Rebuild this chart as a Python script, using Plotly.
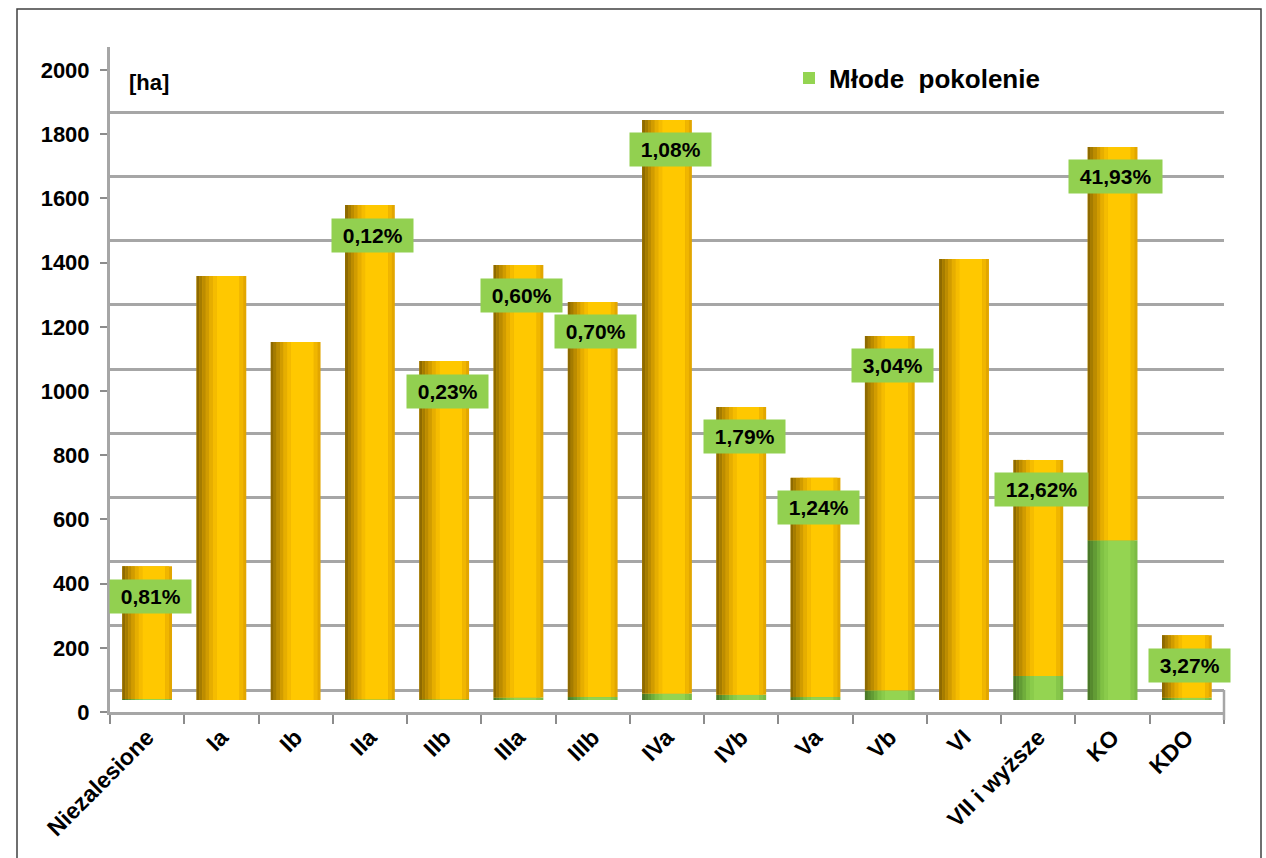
import plotly.graph_objects as go

# ---------------- data ----------------
categories = ["Niezalesione", "Ia", "Ib", "IIa", "IIb", "IIIa", "IIIb", "IVa",
              "IVb", "Va", "Vb", "VI", "VII i wyższe", "KO", "KDO"]
total_ha = [417, 1321, 1115, 1542, 1056, 1355, 1240, 1807,
            913, 692, 1134, 1374, 748, 1723, 202]
young_ha = [3, 0, 0, 2, 2, 8, 9, 20,
            16, 9, 30, 0, 75, 498, 7]
pct_labels = ["0,81%", "", "", "0,12%", "0,23%", "0,60%", "0,70%", "1,08%",
              "1,79%", "1,24%", "3,04%", "", "12,62%", "41,93%", "3,27%"]
y_ticks = [0, 200, 400, 600, 800, 1000, 1200, 1400, 1600, 1800, 2000]

rest_ha = [t - y for t, y in zip(total_ha, young_ha)]

# ---------------- geometry (pixels) ----------------
W, H = 1266, 858
L, R = 110, 1224          # plot area left/right
T, B = 47, 712            # plot area top/bottom
PX_PER_UNIT = 642 / 2000  # vertical scale
span = (B - T) / PX_PER_UNIT

def rng(zero_px):
    lo = -(B - zero_px) / PX_PER_UNIT
    return [lo, lo + span]

def px_x(x):
    return (x - L) / (R - L)

def px_y(y):
    return (B - y) / (B - T)

FONT = "Liberation Sans, Arial, sans-serif"

fig = go.Figure()

# cylinder-like shading: layers of bars (left dark -> bright -> slightly dark right)
orange_layers = [(-0.335, 0.67, "#E2A600"), (-0.335, 0.04, "#8E6A00"),
                 (-0.295, 0.04, "#A57C00"), (-0.255, 0.045, "#BC8C00"),
                 (-0.21, 0.045, "#D19C00"), (-0.165, 0.05, "#E6AE00"),
                 (-0.115, 0.05, "#F5BC00"), (-0.065, 0.31, "#FFC800"),
                 (0.245, 0.05, "#F0B600")]
green_layers = [(-0.335, 0.67, "#7CBB45"), (-0.335, 0.04, "#4A7828"),
                (-0.295, 0.04, "#568A2E"), (-0.255, 0.045, "#629C35"),
                (-0.21, 0.045, "#70AE3C"), (-0.165, 0.05, "#80C144"),
                (-0.115, 0.05, "#8ACB4B"), (-0.065, 0.31, "#94D451"),
                (0.245, 0.05, "#86C64A")]

legend_idx = 7
for i, (off, wid, col) in enumerate(green_layers):
    fig.add_trace(go.Bar(
        x=categories, y=young_ha, base=[0] * len(categories),
        offset=off, width=wid, marker=dict(color=col, line=dict(width=0)),
        name="Młode  pokolenie", showlegend=(i == legend_idx),
        hoverinfo="skip"))
for off, wid, col in orange_layers:
    fig.add_trace(go.Bar(
        x=categories, y=rest_ha, base=young_ha,
        offset=off, width=wid, marker=dict(color=col, line=dict(width=0)),
        showlegend=False, hoverinfo="skip"))

# empty traces to register overlay axes (labels front / grid back)
fig.add_trace(go.Scatter(x=[], y=[], yaxis="y2", showlegend=False))
fig.add_trace(go.Scatter(x=[], y=[], yaxis="y3", showlegend=False))

# data labels
for c, t, lab in zip(categories, total_ha, pct_labels):
    if lab:
        fig.add_annotation(
            x=c, y=t, xref="x", yref="y", text="\u00a0" + lab + "\u00a0",
            showarrow=False, yanchor="middle", xanchor="center",
            yshift=-30, xshift=3, bgcolor="#92D050", borderpad=5,
            font=dict(family=FONT, size=21, color="#000000", weight="bold"))

# unit label
fig.add_annotation(
    x=px_x(127), y=px_y(82), xref="paper", yref="paper", text="[ha]",
    showarrow=False, xanchor="left", yanchor="middle",
    font=dict(family=FONT, size=22, color="#000000", weight="bold"))

# outer frame and floor right edge
fig.add_shape(type="rect", xref="paper", yref="paper",
              x0=px_x(17), x1=px_x(1261), y0=px_y(880), y1=px_y(9),
              line=dict(color="#404040", width=1.5), layer="below")
fig.add_shape(type="line", xref="paper", yref="paper",
              x0=1, x1=1, y0=px_y(720), y1=px_y(690),
              line=dict(color="#a6a6a6", width=2.5))

fig.update_layout(
    width=W, height=H,
    margin=dict(l=L, r=W - R, t=T, b=H - B),
    paper_bgcolor="white", plot_bgcolor="rgba(0,0,0,0)",
    barmode="overlay",
    font=dict(family=FONT, color="#000000"),
    showlegend=True,
    legend=dict(x=px_x(789), y=px_y(78), xanchor="left", yanchor="middle",
                bgcolor="rgba(0,0,0,0)",
                font=dict(family=FONT, size=26, color="#000000", weight="bold")),
    xaxis=dict(
        type="category", categoryorder="array", categoryarray=categories,
        showline=True, linecolor="#a6a6a6", linewidth=2.5,
        ticks="outside", tickson="boundaries", ticklen=9, tickwidth=2,
        tickcolor="#8c8c8c", tickangle=-45, showgrid=False,
        tickfont=dict(family=FONT, size=23, color="#000000", weight="bold"),
        range=[-0.5, len(categories) - 0.5]),
    yaxis=dict(range=rng(700), showgrid=False, zeroline=False,
               showticklabels=False, ticks=""),
    yaxis2=dict(overlaying="y", side="left", range=rng(712),
                tickvals=y_ticks, showgrid=False, zeroline=False,
                showline=True, linecolor="#a6a6a6", linewidth=3,
                ticks="outside", ticklen=7, tickwidth=2, tickcolor="#8c8c8c",
                ticklabelstandoff=6,
                tickfont=dict(family=FONT, size=22, color="#000000", weight="bold")),
    yaxis3=dict(overlaying="y", side="left", range=rng(690),
                tickvals=y_ticks, showgrid=True, gridcolor="#a6a6a6",
                gridwidth=2.5, zeroline=False, showticklabels=False,
                ticks="", showline=False),
)

fig.write_html("out.html")
